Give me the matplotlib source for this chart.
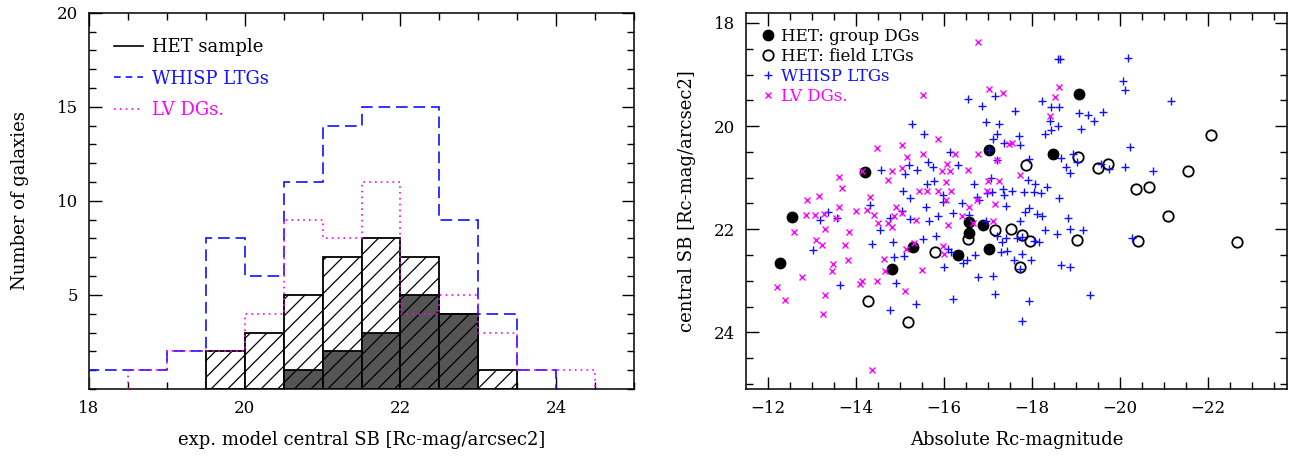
import numpy as np
import matplotlib
matplotlib.use("Agg")
import matplotlib.pyplot as plt
from matplotlib.lines import Line2D

plt.rcParams['font.family'] = ['DejaVu Serif']
plt.rcParams['hatch.linewidth'] = 0.9

# ---- left panel: histograms of central surface brightness ----
het_edges = np.arange(19.5, 23.51, 0.5)
het_counts = [2, 3, 5, 7, 8, 7, 4, 1]
grp_edges = np.arange(20.5, 23.01, 0.5)
grp_counts = [1, 2, 3, 5, 4]
whisp_edges = np.arange(18.0, 24.01, 0.5)
whisp_counts = [1, 1, 2, 8, 6, 11, 14, 15, 15, 9, 4, 1]
lv_edges = np.arange(18.5, 24.51, 0.5)
lv_counts = [1, 2, 2, 4, 9, 8, 11, 4, 5, 3, 1, 1]

# ---- right panel: SB vs absolute magnitude ----
grp_mag = [-14.20, -17.02, -12.54, -12.27, -14.83, -15.30, -16.58, -16.57,
           -16.89, -16.33, -17.02, -19.08, -18.48]
grp_sb = [20.90, 20.47, 21.77, 22.65, 22.77, 22.35, 21.87, 22.07,
          21.91, 22.51, 22.38, 19.37, 20.55]

fld_mag = [-14.27, -15.19, -15.79, -16.55, -17.17, -17.52, -17.77, -17.95,
           -17.73, -17.86, -19.05, -19.50, -19.73, -19.02, -20.41, -20.36,
           -20.66, -21.55, -21.10, -22.08, -22.67]
fld_sb = [23.39, 23.81, 22.45, 22.20, 22.02, 21.99, 22.12, 22.23,
          22.74, 20.75, 20.60, 20.81, 20.74, 22.21, 22.23, 21.23,
          21.19, 20.88, 21.74, 20.17, 22.25]

whisp_mag = [-16.55, -16.86, -17.17, -15.28, -15.55, -16.96, -17.11, -17.21,
             -16.14, -16.32, -15.64, -15.75, -15.20, -15.11, -15.39, -14.56,
             -17.08, -16.68, -17.20, -15.08, -15.62, -15.77, -16.76, -17.10,
             -17.02, -15.98, -15.60,
             -13.37, -13.18, -13.02, -13.58, -13.64, -14.31, -14.37, -14.55,
             -14.77, -14.85, -14.86, -14.90, -14.77, -15.04, -15.09, -15.22,
             -15.36, -15.53, -15.67, -15.87, -15.83, -15.98, -16.00, -16.10,
             -16.17, -16.21, -16.21, -16.40, -16.43, -16.52, -16.57, -16.70,
             -16.78, -16.95, -17.11, -17.16, -17.21, -16.80, -16.98, -15.22,
             -18.60, -18.64, -20.19, -20.08, -20.11, -21.17, -18.23, -18.44,
             -18.61, -17.61, -19.08, -19.27, -19.42, -19.62, -18.42, -18.44,
             -18.60, -18.30, -19.11, -17.25, -17.70, -20.22, -17.36, -17.74,
             -18.65, -18.93, -19.03, -18.77, -18.86, -19.58, -19.75, -20.11,
             -20.76, -17.93, -17.92, -18.07, -18.35, -18.21, -18.05, -17.82,
             -17.55, -17.34, -17.36, -17.42, -18.61, -17.93, -17.84, -18.11,
             -18.23, -17.72, -18.83, -18.86, -18.58, -18.29, -19.17, -18.16,
             -18.05, -17.78, -17.67, -17.42, -17.31, -17.29, -17.44, -17.59,
             -17.78, -17.97, -18.67, -18.86, -19.32, -17.93, -17.78, -17.73,
             -20.28]
whisp_sb = [19.47, 19.61, 19.41, 19.96, 20.15, 19.92, 20.25, 20.15,
            20.51, 20.75, 20.70, 20.80, 20.76, 20.92, 20.86, 20.86,
            21.01, 21.12, 20.65, 21.25, 21.12, 21.07, 21.38, 21.28,
            20.47, 21.33, 21.57,
            21.67, 21.83, 22.41, 21.79, 23.09, 21.54, 22.29, 22.01,
            21.78, 22.25, 22.54, 23.04, 23.56, 21.65, 22.52, 21.80,
            23.45, 22.19, 21.85, 21.75, 22.14, 21.48, 22.73, 22.38,
            22.45, 21.69, 23.35, 21.49, 22.65, 22.60, 21.72, 22.51,
            22.92, 21.85, 22.90, 23.25, 22.14, 21.43, 21.30, 21.39,
            18.70, 18.70, 18.68, 19.12, 19.30, 19.52, 19.52, 19.63,
            19.62, 19.70, 19.75, 19.79, 19.90, 19.72, 19.90, 20.07,
            19.99, 20.15, 20.05, 19.95, 20.20, 20.41, 20.33, 20.37,
            20.61, 20.54, 20.70, 20.79, 20.91, 20.73, 20.83, 20.79,
            20.88, 20.64, 21.04, 21.12, 21.18, 21.30, 21.28, 21.28,
            21.26, 21.23, 21.33, 21.55, 21.39, 21.59, 21.66, 21.70,
            21.75, 21.84, 21.79, 21.99, 22.09, 22.01, 22.01, 22.25,
            22.23, 22.15, 22.18, 22.17, 22.25, 22.44, 22.43, 22.60,
            22.48, 22.60, 22.70, 22.73, 23.28, 23.39, 23.78, 22.78,
            22.18]

lv_mag = [-16.77, -15.52, -17.02, -14.48, -15.05, -15.17, -15.52, -15.87,
          -16.25, -16.78, -17.21, -14.83, -14.73, -13.61, -13.69, -14.14,
          -15.04, -15.96, -16.08, -16.13, -16.55, -16.04, -15.43, -15.62,
          -15.86, -16.15, -17.01, -16.98, -14.33, -13.16, -12.89, -16.04,
          -12.86, -13.07, -13.27, -13.30, -12.59, -13.08, -13.22, -13.61,
          -13.55, -13.84, -13.99, -14.24, -14.41, -14.51, -14.73, -14.81,
          -14.92, -14.86, -15.05, -15.36, -13.75, -13.83, -13.48, -13.45,
          -12.78, -12.20, -12.38, -13.30, -13.26, -14.14, -14.09, -14.48,
          -14.64, -14.67, -15.11, -15.49, -15.13, -15.33, -15.98, -16.00,
          -16.10, -16.40, -16.58, -16.67, -16.76, -17.16, -17.12, -14.37,
          -17.34, -18.61, -18.52, -18.42, -17.54, -17.48, -17.73, -17.25]
lv_sb = [18.37, 19.39, 19.28, 20.43, 20.37, 20.59, 20.54, 20.26,
         20.55, 20.55, 20.65, 20.88, 21.04, 20.99, 21.20, 20.88,
         20.81, 20.88, 20.73, 20.88, 20.85, 21.09, 21.25, 21.25,
         21.26, 21.25, 21.06, 21.26, 21.37, 21.36, 21.43, 21.43,
         21.72, 21.72, 21.70, 22.00, 22.06, 22.21, 22.30, 21.56,
         21.79, 22.05, 21.65, 21.63, 21.72, 21.88, 21.88, 21.96,
         21.56, 21.74, 21.69, 21.83, 22.30, 22.59, 22.67, 22.82,
         22.92, 23.12, 23.38, 23.27, 23.65, 23.01, 23.06, 23.01,
         22.57, 22.81, 23.19, 22.79, 22.38, 22.27, 22.32, 22.49,
         21.91, 21.75, 21.56, 21.88, 21.43, 21.52, 21.85, 24.73,
         19.35, 19.25, 19.44, 19.81, 20.33, 20.34, 20.94, 21.07]

BLUE = '#1010ff'
MAG = '#ff00ff'

fig = plt.figure(figsize=(12.9, 4.58), dpi=100)
ax1 = fig.add_axes([0.0690, 0.1507, 0.4225, 0.8216])
ax2 = fig.add_axes([0.5783, 0.1507, 0.4194, 0.8216])

# left: hatched HET histogram with darker group-DG part
ax1.bar(het_edges[:-1], het_counts, width=0.5, align='edge', color='white',
        edgecolor='black', hatch='//', linewidth=1.3, zorder=2)
ax1.bar(grp_edges[:-1], grp_counts, width=0.5, align='edge', color='#555555',
        edgecolor='black', hatch='//', linewidth=1.3, zorder=3)
ax1.stairs(whisp_counts, whisp_edges, color=BLUE, linewidth=1.2,
           linestyle=(0, (7, 3.5)), zorder=4)
ax1.stairs(lv_counts, lv_edges, color=MAG, linewidth=1.2,
           linestyle=(0, (1, 2.5)), zorder=5)

ax1.set_xlim(18, 25)
ax1.set_ylim(0, 20)
ax1.set_xticks([18, 20, 22, 24])
ax1.set_xticks(np.arange(18, 25.01, 0.5), minor=True)
ax1.set_yticks([5, 10, 15, 20])
ax1.set_yticks(np.arange(0, 20.01, 1), minor=True)
ax1.set_xlabel('exp. model central SB [Rc-mag/arcsec2]', fontsize=13, labelpad=10)
ax1.set_ylabel('Number of galaxies', fontsize=13, labelpad=20)

h1 = [Line2D([], [], color='black', lw=1.2),
      Line2D([], [], color=BLUE, lw=1.2, linestyle=(0, (4, 3))),
      Line2D([], [], color=MAG, lw=1.2, linestyle=(0, (1, 2.5)))]
ax1.legend(h1, ['HET sample', 'WHISP LTGs', 'LV DGs.'], loc='upper left',
           frameon=False, fontsize=13, handlelength=1.6, handletextpad=0.5,
           labelspacing=0.75, borderaxespad=1.0,
           labelcolor=['black', BLUE, MAG])

# right: scatter
ax2.plot(grp_mag, grp_sb, 'o', color='black', ms=7.5, linestyle='none', zorder=3)
ax2.plot(fld_mag, fld_sb, 'o', mfc='none', mec='black', mew=1.3, ms=7.5,
         linestyle='none', zorder=3)
ax2.plot(whisp_mag, whisp_sb, '+', color=BLUE, ms=6, mew=1.0,
         linestyle='none', zorder=4)
ax2.plot(lv_mag, lv_sb, 'x', color=MAG, ms=5, mew=1.0,
         linestyle='none', zorder=5)

ax2.set_xlim(-11.5, -23.8)
ax2.set_ylim(25.1, 17.8)
ax2.set_xticks([-12, -14, -16, -18, -20, -22])
ax2.set_xticks(np.arange(-12, -23.9, -0.5), minor=True)
ax2.set_xticklabels(['\u221212', '\u221214', '\u221216', '\u221218', '\u221220', '\u221222'])
ax2.set_yticks([18, 20, 22, 24])
ax2.set_yticks(np.arange(18, 25.01, 0.5), minor=True)
ax2.set_xlabel('Absolute Rc-magnitude', fontsize=13, labelpad=10)
ax2.set_ylabel('central SB [Rc-mag/arcsec2]', fontsize=13, labelpad=13)

h2 = [Line2D([], [], marker='o', color='black', ms=7.5, linestyle='none'),
      Line2D([], [], marker='o', mfc='none', mec='black', mew=1.3, ms=7.5, linestyle='none'),
      Line2D([], [], marker='+', color=BLUE, ms=6, linestyle='none'),
      Line2D([], [], marker='x', color=MAG, ms=5, linestyle='none')]
ax2.legend(h2, ['HET: group DGs', 'HET: field LTGs', 'WHISP LTGs', 'LV DGs.'],
           loc='upper left', frameon=False, fontsize=12, handlelength=0.8,
           handletextpad=0.4, labelspacing=0.18, borderaxespad=0.6,
           borderpad=0.3, labelcolor=['black', 'black', BLUE, MAG])

for ax in (ax1, ax2):
    ax.tick_params(which='both', direction='in', top=True, right=True,
                   labelsize=12, pad=8, width=1.0)
    ax.tick_params(which='major', length=9)
    ax.tick_params(which='minor', length=5)
    for s in ax.spines.values():
        s.set_linewidth(1.1)

fig.savefig('out.png', dpi=100)
